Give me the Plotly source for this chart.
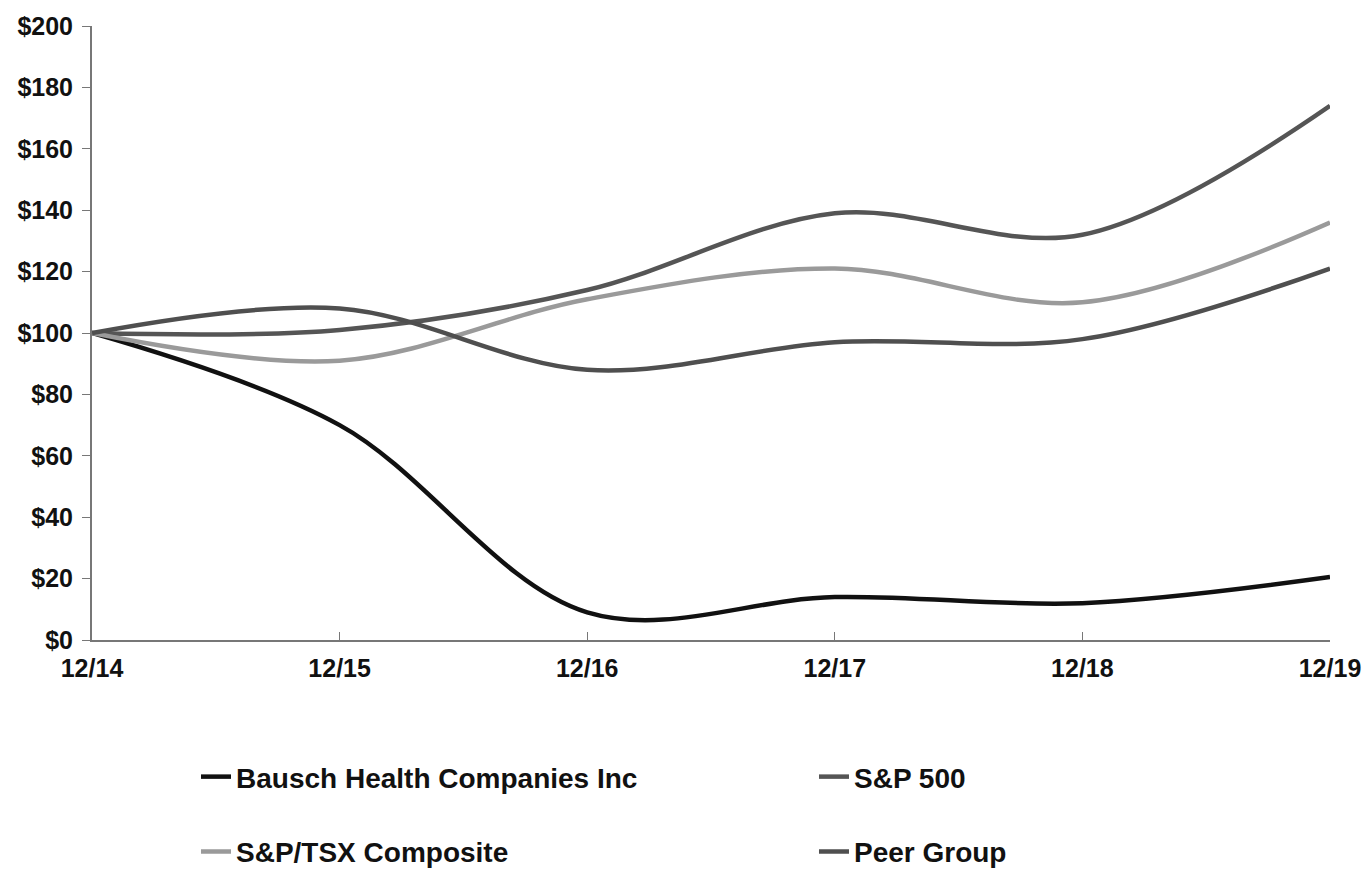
import plotly.graph_objects as go

periods = ["12/14", "12/15", "12/16", "12/17", "12/18", "12/19"]
bausch = [100, 70, 9, 14, 12, 20.5]
sp500 = [100, 101, 114, 139, 132, 174]
tsx = [100, 91, 111, 121, 110, 136]
peer = [100, 108, 88, 97, 98, 121]

series = [
    ("Bausch Health Companies Inc", bausch, "#111111", "legend"),
    ("S&P 500", sp500, "#555555", "legend"),
    ("S&P/TSX Composite", tsx, "#9a9a9a", "legend2"),
    ("Peer Group", peer, "#4f4f4f", "legend2"),
]

xpos = list(range(len(periods)))
fig = go.Figure()
for name, vals, color, leg in series:
    fig.add_trace(go.Scatter(
        x=xpos, y=vals, name=name, mode="lines",
        line=dict(color=color, width=4.5, shape="spline", smoothing=1.0),
        legend=leg,
    ))

font_family = "Liberation Sans, Arial, sans-serif"
legend_common = dict(
    orientation="h", xanchor="left", yanchor="middle",
    font=dict(family=font_family, size=28, color="#111111", weight="bold"),
    entrywidth=573, entrywidthmode="pixels",
    bgcolor="rgba(0,0,0,0)", itemwidth=30,
)

fig.update_layout(
    width=1366, height=873,
    margin=dict(l=92, r=36, t=26, b=233, autoexpand=False),
    plot_bgcolor="white", paper_bgcolor="white",
    showlegend=True,
    legend=dict(x=0.084, y=-0.223, **legend_common),
    legend2=dict(x=0.084, y=-0.345, **legend_common),
    xaxis=dict(
        range=[0, 5], tickmode="array", tickvals=xpos, ticktext=periods,
        showgrid=False, zeroline=False, showline=True, linecolor="#777777", linewidth=2,
        ticks="inside", ticklen=8, tickcolor="#777777", ticklabelstandoff=5,
        tickfont=dict(family=font_family, size=25, color="#111111", weight="bold"),
    ),
    yaxis=dict(
        range=[0, 200], tickmode="array", tickvals=list(range(0, 201, 20)),
        ticktext=["$" + str(v) for v in range(0, 201, 20)],
        showgrid=False, zeroline=False, showline=True, linecolor="#777777", linewidth=2,
        ticks="outside", ticklen=8, tickcolor="#777777", ticklabelstandoff=4,
        tickfont=dict(family=font_family, size=25, color="#111111", weight="bold"),
    ),
)

fig.write_html("out.html")
